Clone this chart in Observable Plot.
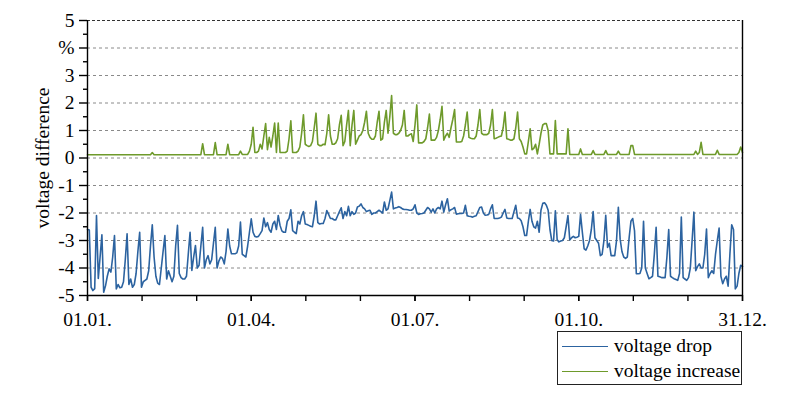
<!DOCTYPE html>
<html>
<head>
<meta charset="utf-8">
<script src="https://cdn.jsdelivr.net/npm/d3@7"></script>
<script src="https://cdn.jsdelivr.net/npm/@observablehq/plot@0.6"></script>
<style>
  body { margin: 0; background: #fff; }
  #wrap { position: relative; width: 797px; height: 396px; font-family: "Liberation Serif", "Times New Roman", serif; }
  #wrap svg text { font-family: "Liberation Serif", "Times New Roman", serif; }
  #legend { position: absolute; left: 557px; top: 331px; width: 185px; height: 54px; border: 1px solid #222; box-sizing: border-box; font-size: 19.5px; color: #000; }
  #legend .row { position: absolute; left: 0; height: 22px; display: flex; align-items: center; }
  #legend .sw { width: 46px; height: 0; border-top: 1.5px solid; margin-left: 4px; margin-right: 6px; }
</style>
</head>
<body>
<div id="wrap"></div>
<script>
// ---- data (daily values, day 0 = 01.01.) ----
const voltageDrop = [
  -2.6,-2.62,-4.7,-4.82,-4.75,-2.09,-4.38,-3.6,-2.79,-4.88,
  -4.65,-4.3,-4.03,-4.15,-3.6,-2.82,-4.76,-4.6,-4.72,-4.7,
  -4.5,-3.7,-2.76,-4.6,-4.4,-4.7,-4.6,-4.2,-3.4,-2.7,
  -4.7,-4.5,-4.45,-4.4,-4.1,-3.2,-2.43,-3.6,-4.3,-4.55,
  -4.6,-4.0,-3.4,-2.82,-4.4,-4.1,-4.3,-4.5,-4.3,-3.2,
  -2.45,-4.2,-4.35,-4.4,-4.4,-4.3,-3.5,-2.7,-4.09,-3.6,
  -3.18,-4.0,-3.9,-3.2,-2.52,-4.0,-3.7,-3.55,-3.85,-3.7,
  -3.1,-2.52,-4.0,-3.75,-3.6,-3.65,-3.85,-3.4,-2.58,-3.2,
  -3.48,-3.48,-3.48,-3.45,-3.2,-2.33,-3.5,-3.55,-3.6,-3.2,
  -2.7,-2.21,-2.7,-2.85,-2.87,-2.85,-2.75,-2.64,-2.18,-2.5,
  -2.35,-2.6,-2.7,-2.4,-2.3,-2.6,-2.09,-2.45,-2.65,-2.7,
  -2.7,-2.3,-2.2,-1.88,-2.64,-2.7,-2.75,-2.3,-2.4,-2.1,
  -1.95,-2.4,-2.42,-2.45,-2.48,-2.5,-2.1,-1.57,-2.35,-2.4,
  -2.38,-2.38,-2.2,-1.91,-2.05,-2.2,-2.2,-2.25,-2.25,-2.1,
  -1.95,-1.81,-2.2,-1.95,-2.1,-1.76,-2.1,-1.95,-2.05,-2.0,
  -1.78,-1.75,-1.67,-1.8,-1.85,-1.95,-1.92,-1.9,-2.05,-2.0,
  -2.0,-1.95,-1.9,-1.95,-2.0,-1.6,-1.9,-1.85,-1.55,-1.24,
  -1.85,-1.82,-1.8,-1.77,-1.8,-1.85,-1.87,-1.87,-1.88,-1.9,
  -1.9,-1.85,-1.7,-2.0,-2.05,-2.03,-2.02,-2.0,-1.9,-1.8,
  -1.85,-1.97,-1.85,-2.0,-1.85,-1.8,-1.85,-1.57,-1.97,-1.7,
  -1.48,-1.93,-1.88,-1.85,-1.8,-2.04,-2.03,-2.02,-2.02,-2.0,
  -1.72,-2.1,-2.12,-2.13,-2.15,-2.12,-2.1,-1.95,-1.8,-1.78,
  -2.0,-2.08,-2.07,-2.05,-1.85,-1.7,-2.2,-2.2,-2.2,-2.18,
  -2.15,-2.0,-1.87,-2.18,-2.2,-2.2,-2.2,-1.95,-1.72,-2.18,
  -2.2,-2.28,-2.5,-2.82,-2.82,-2.3,-1.87,-2.3,-2.5,-2.55,
  -2.3,-2.7,-1.9,-1.65,-1.63,-1.72,-1.9,-2.6,-3.0,-3.02,
  -1.92,-2.97,-3.05,-3.02,-3.0,-2.9,-2.5,-2.09,-2.98,-2.9,
  -2.85,-2.9,-2.88,-2.85,-2.05,-2.7,-3.3,-3.35,-3.2,-3.0,
  -2.6,-1.95,-2.9,-3.0,-3.1,-3.55,-3.5,-3.0,-2.08,-3.25,
  -3.1,-3.55,-3.55,-3.55,-3.0,-1.79,-2.95,-3.4,-3.6,-3.65,
  -3.6,-2.9,-2.3,-2.2,-2.65,-4.21,-4.21,-4.2,-4.0,-2.3,
  -4.0,-4.2,-4.39,-4.35,-4.3,-3.5,-2.52,-4.3,-4.32,-4.35,
  -4.35,-4.35,-3.6,-2.6,-4.3,-4.35,-4.39,-4.42,-4.45,-4.2,
  -2.15,-4.35,-4.4,-4.45,-4.35,-4.0,-3.0,-1.97,-4.1,-3.95,
  -3.85,-4.0,-4.0,-3.5,-2.58,-4.35,-4.2,-4.1,-4.2,-3.5,
  -3.0,-2.55,-4.3,-4.57,-4.4,-4.3,-4.66,-3.5,-2.43,-2.6,
  -4.76,-4.66,-4.2,-3.9,-3.95
];
const voltageIncrease = [
  0.12,0.12,0.12,0.12,0.12,0.12,0.12,0.12,0.12,0.12,
  0.12,0.12,0.12,0.12,0.12,0.12,0.12,0.12,0.12,0.12,
  0.12,0.12,0.12,0.12,0.12,0.12,0.12,0.12,0.12,0.12,
  0.12,0.12,0.12,0.12,0.12,0.12,0.2,0.12,0.12,0.12,
  0.12,0.12,0.12,0.12,0.12,0.12,0.12,0.12,0.12,0.12,
  0.12,0.12,0.12,0.12,0.12,0.12,0.12,0.12,0.12,0.12,
  0.12,0.12,0.12,0.12,0.52,0.12,0.12,0.12,0.12,0.12,
  0.12,0.56,0.12,0.12,0.12,0.12,0.12,0.12,0.5,0.12,
  0.12,0.12,0.12,0.12,0.12,0.25,0.13,0.13,0.13,0.13,
  0.25,0.5,1.12,0.2,0.2,0.25,0.5,0.33,0.8,1.25,
  0.3,0.75,0.4,0.8,1.27,0.2,1.27,0.2,0.2,0.2,
  0.2,0.25,0.7,1.35,0.2,0.2,0.2,0.25,0.4,0.9,
  1.57,0.5,0.45,0.42,0.45,0.6,1.1,1.63,0.5,0.45,
  0.45,0.5,0.48,0.9,1.57,0.8,0.5,0.5,0.55,0.7,
  1.2,1.55,0.45,0.6,1.2,1.73,0.45,1.2,1.73,0.5,
  0.65,0.8,0.85,1.0,1.3,1.7,0.9,0.75,0.68,0.68,
  0.8,1.3,1.7,0.65,0.7,1.3,1.73,0.9,1.5,2.27,
  0.9,0.85,0.85,0.9,1.0,1.2,1.73,0.8,0.8,0.85,
  0.88,0.6,1.2,1.93,0.55,0.55,0.55,0.6,0.7,1.1,
  1.6,0.65,0.65,0.65,0.75,1.0,1.4,1.88,0.65,0.8,
  0.9,0.75,1.1,1.4,1.76,0.58,0.58,0.58,0.6,0.8,
  1.2,1.67,0.75,0.72,0.7,0.7,0.8,1.2,1.76,0.9,
  0.85,0.85,0.85,0.9,1.2,1.76,0.7,0.72,0.75,0.78,
  0.8,1.1,1.67,0.7,0.68,0.65,0.65,0.7,1.1,1.67,
  0.7,0.6,0.4,0.15,0.15,0.6,1.06,0.3,0.35,0.5,
  0.15,0.5,0.9,1.2,1.25,1.25,1.0,0.15,0.15,0.15,
  1.36,0.15,0.15,0.15,0.15,0.15,0.15,1.06,0.13,0.13,
  0.13,0.13,0.13,0.13,0.33,0.13,0.13,0.13,0.13,0.13,
  0.13,0.27,0.13,0.13,0.13,0.13,0.13,0.13,0.27,0.13,
  0.13,0.13,0.13,0.13,0.13,0.25,0.13,0.13,0.13,0.13,
  0.13,0.13,0.45,0.45,0.13,0.13,0.13,0.13,0.13,0.13,
  0.13,0.13,0.13,0.13,0.13,0.13,0.13,0.13,0.13,0.13,
  0.13,0.13,0.13,0.13,0.13,0.13,0.13,0.13,0.13,0.13,
  0.13,0.13,0.13,0.13,0.13,0.13,0.13,0.13,0.25,0.13,
  0.2,0.57,0.13,0.13,0.13,0.13,0.13,0.13,0.13,0.13,
  0.28,0.13,0.13,0.13,0.13,0.13,0.13,0.13,0.13,0.13,
  0.13,0.13,0.2,0.4,0.2
];
const xMajorTicks = [0, 91, 182, 273, 364];
const xTickLabels = ["01.01.", "01.04.", "01.07.", "01.10.", "31.12."];
const xMinorTicks = [0, 30.33, 60.67, 91, 121.33, 151.67, 182, 212.33, 242.67, 273, 303.33, 333.67, 364];
const yTicks = [-5, -4, -3, -2, -1, 0, 1, 2, 3, 4, 5];
const yTickLabels = ["-5", "-4", "-3", "-2", "-1", "0", "1", "2", "3", "%", "5"];
const yMinorTicks = [-4.5, -3.5, -2.5, -1.5, -0.5, 0.5, 1.5, 2.5, 3.5, 4.5];
const yGrid = [-4, -3, -2, -1, 0, 1, 2, 3, 4];
const seriesNames = ["voltage drop", "voltage increase"];
const seriesColors = ["#2c63a0", "#6e9a2b"];

const dropData = voltageDrop.map((v, i) => ({day: i, v}));
const incData = voltageIncrease.map((v, i) => ({day: i, v}));
const labelOf = new Map(xMajorTicks.map((d, i) => [d, xTickLabels[i]]));
const yLabelOf = new Map(yTicks.map((d, i) => [d, yTickLabels[i]]));

const chart = Plot.plot({
  width: 797,
  height: 330,
  marginLeft: 87,
  marginRight: 55,
  marginTop: 20,
  marginBottom: 35,
  style: {fontFamily: "'Liberation Serif', 'Times New Roman', serif", fontSize: "19.5px", color: "#000", background: "#fff"},
  x: {domain: [0, 364]},
  y: {domain: [-5, 5]},
  marks: [
    Plot.ruleY(yGrid, {stroke: "#8a8a8a", strokeDasharray: "3,3", strokeWidth: 1}),
    Plot.ruleY([5], {stroke: "#333", strokeDasharray: "3,2", strokeWidth: 1}),
    Plot.line(incData, {x: "day", y: "v", stroke: seriesColors[1], strokeWidth: 1.6}),
    Plot.line(dropData, {x: "day", y: "v", stroke: seriesColors[0], strokeWidth: 1.6}),
    Plot.ruleX([0], {stroke: "#000", strokeWidth: 1.4}),
    Plot.ruleX([364], {stroke: "#000", strokeWidth: 1.4}),
    Plot.ruleY([-5], {stroke: "#000", strokeWidth: 1.4}),
    Plot.axisY({ticks: yTicks, tickSize: 8, tickPadding: 5, tickFormat: d => yLabelOf.get(d), fontSize: 19.5, label: "voltage difference", labelAnchor: "center", labelOffset: 52, labelArrow: "none", stroke: "#000", strokeWidth: 1.4}),
    Plot.axisY({ticks: yMinorTicks, tickSize: 4, tickFormat: () => "", label: null, stroke: "#000", strokeWidth: 1.4}),
    Plot.axisX({ticks: xMinorTicks, tickSize: 6, tickFormat: () => "", label: null, stroke: "#000", strokeWidth: 1.4}),
    Plot.axisX({ticks: xMajorTicks, tickSize: 6, tickPadding: 11, tickFormat: d => labelOf.get(d), fontSize: 19.5, label: null, stroke: "#000", strokeWidth: 1.4})
  ]
});

const wrap = document.getElementById("wrap");
wrap.appendChild(chart);
const legend = document.createElement("div");
legend.id = "legend";
seriesNames.forEach((name, i) => {
  const row = document.createElement("div");
  row.className = "row";
  row.style.top = (i === 0 ? 3 : 28) + "px";
  const sw = document.createElement("span");
  sw.className = "sw";
  sw.style.borderTopColor = seriesColors[i];
  const t = document.createElement("span");
  t.textContent = name;
  row.appendChild(sw);
  row.appendChild(t);
  legend.appendChild(row);
});
wrap.appendChild(legend);
</script>
</body>
</html>
